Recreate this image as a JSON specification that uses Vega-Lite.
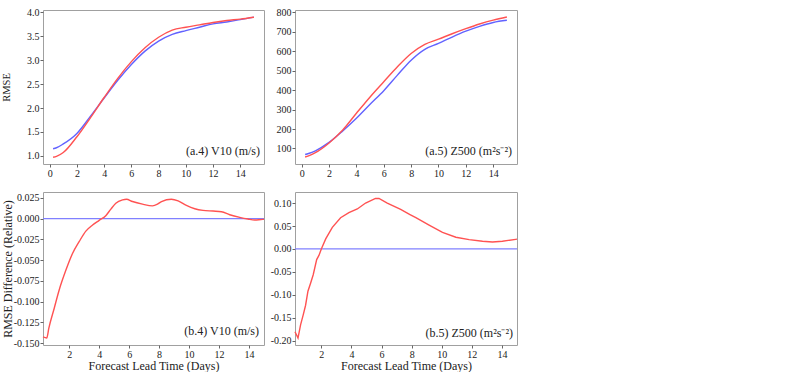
{
  "$schema": "https://vega.github.io/schema/vega-lite/v6.json",
  "background": "white",
  "padding": {"left": 0, "top": 6, "right": 0, "bottom": 0},
  "bounds": "flush",
  "columns": 2,
  "spacing": {"row": 28, "column": 31},
  "config": {
    "font": "Liberation Serif",
    "locale": {"number": {"decimal": ".", "thousands": ",", "grouping": [3], "currency": ["$", ""], "minus": "-"}},
    "view": {"stroke": "#a0a0a0", "strokeWidth": 1},
    "axis": {
      "grid": false, "domain": false, "tickColor": "#666", "tickSize": 3, "labelPadding": 1,
      "labelOverlap": false, "labelFlush": false, "labelBound": false,
      "labelFont": "Liberation Serif", "labelFontSize": 10, "labelColor": "#222",
      "titleFont": "Liberation Serif", "titleFontSize": 12, "titleFontWeight": "normal", "titleColor": "#222"
    }
  },
  "datasets": {
    "a4": [
      {"x": 0.25, "series": "A", "v": 1.15}, {"x": 0.5, "series": "A", "v": 1.17}, {"x": 1, "series": "A", "v": 1.25},
      {"x": 2, "series": "A", "v": 1.47}, {"x": 3, "series": "A", "v": 1.83}, {"x": 4, "series": "A", "v": 2.21},
      {"x": 5, "series": "A", "v": 2.58}, {"x": 6, "series": "A", "v": 2.91}, {"x": 7, "series": "A", "v": 3.19},
      {"x": 8, "series": "A", "v": 3.40}, {"x": 9, "series": "A", "v": 3.54}, {"x": 10, "series": "A", "v": 3.62},
      {"x": 11, "series": "A", "v": 3.69}, {"x": 12, "series": "A", "v": 3.76}, {"x": 13, "series": "A", "v": 3.80},
      {"x": 14, "series": "A", "v": 3.85}, {"x": 15, "series": "A", "v": 3.90},
      {"x": 0.25, "series": "B", "v": 0.97}, {"x": 0.5, "series": "B", "v": 0.99}, {"x": 1, "series": "B", "v": 1.07},
      {"x": 2, "series": "B", "v": 1.40}, {"x": 3, "series": "B", "v": 1.80}, {"x": 4, "series": "B", "v": 2.22},
      {"x": 5, "series": "B", "v": 2.62}, {"x": 6, "series": "B", "v": 2.97}, {"x": 7, "series": "B", "v": 3.26},
      {"x": 8, "series": "B", "v": 3.48}, {"x": 9, "series": "B", "v": 3.63}, {"x": 10, "series": "B", "v": 3.69},
      {"x": 11, "series": "B", "v": 3.74}, {"x": 12, "series": "B", "v": 3.79}, {"x": 13, "series": "B", "v": 3.83},
      {"x": 14, "series": "B", "v": 3.86}, {"x": 15, "series": "B", "v": 3.90}
    ],
    "a5": [
      {"x": 0.25, "series": "A", "v": 69}, {"x": 0.5, "series": "A", "v": 74}, {"x": 1, "series": "A", "v": 88},
      {"x": 2, "series": "A", "v": 131}, {"x": 3, "series": "A", "v": 190}, {"x": 4, "series": "A", "v": 255},
      {"x": 5, "series": "A", "v": 327}, {"x": 6, "series": "A", "v": 397}, {"x": 7, "series": "A", "v": 477},
      {"x": 8, "series": "A", "v": 554}, {"x": 9, "series": "A", "v": 610}, {"x": 10, "series": "A", "v": 640},
      {"x": 11, "series": "A", "v": 673}, {"x": 12, "series": "A", "v": 703}, {"x": 13, "series": "A", "v": 728},
      {"x": 14, "series": "A", "v": 748}, {"x": 15, "series": "A", "v": 759},
      {"x": 0.25, "series": "B", "v": 56}, {"x": 0.5, "series": "B", "v": 62}, {"x": 1, "series": "B", "v": 78},
      {"x": 2, "series": "B", "v": 128}, {"x": 3, "series": "B", "v": 195}, {"x": 4, "series": "B", "v": 281},
      {"x": 5, "series": "B", "v": 365}, {"x": 6, "series": "B", "v": 443}, {"x": 7, "series": "B", "v": 520},
      {"x": 8, "series": "B", "v": 588}, {"x": 9, "series": "B", "v": 635}, {"x": 10, "series": "B", "v": 662},
      {"x": 11, "series": "B", "v": 690}, {"x": 12, "series": "B", "v": 716}, {"x": 13, "series": "B", "v": 740},
      {"x": 14, "series": "B", "v": 760}, {"x": 15, "series": "B", "v": 776}
    ],
    "b4": [
      {"x": 0.25, "d": -0.1427}, {"x": 0.5, "d": -0.144}, {"x": 0.64, "d": -0.132}, {"x": 1.0, "d": -0.108},
      {"x": 1.33, "d": -0.086}, {"x": 1.78, "d": -0.062}, {"x": 2.22, "d": -0.042}, {"x": 2.67, "d": -0.0275},
      {"x": 3.11, "d": -0.015}, {"x": 3.56, "d": -0.0076}, {"x": 4.0, "d": -0.002}, {"x": 4.44, "d": 0.0036},
      {"x": 4.78, "d": 0.0116}, {"x": 5.11, "d": 0.0187}, {"x": 5.56, "d": 0.0227}, {"x": 5.82, "d": 0.0235},
      {"x": 6.22, "d": 0.0207}, {"x": 6.89, "d": 0.0175}, {"x": 7.56, "d": 0.0155}, {"x": 7.89, "d": 0.0175},
      {"x": 8.16, "d": 0.0207}, {"x": 8.82, "d": 0.0235}, {"x": 9.27, "d": 0.0215}, {"x": 9.82, "d": 0.016},
      {"x": 10.38, "d": 0.012}, {"x": 10.93, "d": 0.010}, {"x": 11.6, "d": 0.0092}, {"x": 12.16, "d": 0.0084},
      {"x": 12.71, "d": 0.0048}, {"x": 13.38, "d": 0.0016}, {"x": 13.93, "d": -0.0004}, {"x": 14.38, "d": -0.0016},
      {"x": 14.93, "d": -0.0008}, {"x": 15, "d": -0.0008}
    ],
    "b5": [
      {"x": 0.25, "d": -0.180}, {"x": 0.45, "d": -0.194}, {"x": 0.62, "d": -0.165}, {"x": 0.80, "d": -0.143},
      {"x": 0.95, "d": -0.123}, {"x": 1.11, "d": -0.092}, {"x": 1.29, "d": -0.074}, {"x": 1.46, "d": -0.056},
      {"x": 1.69, "d": -0.023}, {"x": 1.84, "d": -0.014}, {"x": 2.0, "d": 0.0}, {"x": 2.29, "d": 0.022},
      {"x": 2.73, "d": 0.047}, {"x": 3.28, "d": 0.068}, {"x": 3.83, "d": 0.079}, {"x": 4.39, "d": 0.087},
      {"x": 4.94, "d": 0.100}, {"x": 5.6, "d": 0.110}, {"x": 5.83, "d": 0.110}, {"x": 6.38, "d": 0.100},
      {"x": 7.27, "d": 0.086}, {"x": 7.89, "d": 0.075}, {"x": 8.28, "d": 0.068}, {"x": 9.16, "d": 0.052},
      {"x": 10.05, "d": 0.036}, {"x": 10.94, "d": 0.0255}, {"x": 11.82, "d": 0.0204}, {"x": 12.71, "d": 0.0167},
      {"x": 13.37, "d": 0.0153}, {"x": 14.03, "d": 0.0167}, {"x": 14.91, "d": 0.021}, {"x": 15, "d": 0.0215}
    ],
    "zero": [{"ref": 0}],
    "labA4": [{"label": "(a.4) V10 (m/s)"}],
    "labA5": [{"label": "(a.5) Z500 (m²s⁻²)"}],
    "labB4": [{"label": "(b.4) V10 (m/s)"}],
    "labB5": [{"label": "(b.5) Z500 (m²s⁻²)"}]
  },
  "concat": [
    {
      "width": 221, "height": 154,
      "layer": [
        {
          "data": {"name": "a4"},
          "mark": {"type": "line", "interpolate": "monotone", "strokeWidth": 1.4},
          "encoding": {
            "x": {"field": "x", "type": "quantitative", "scale": {"domain": [-0.49, 15.74], "nice": false, "zero": false}, "axis": {"values": [0, 2, 4, 6, 8, 10, 12, 14], "title": null, "labelOverlap": false}},
            "y": {"field": "v", "type": "quantitative", "scale": {"domain": [0.83, 4.05], "nice": false, "zero": false}, "axis": {"values": [1, 1.5, 2, 2.5, 3, 3.5, 4], "format": ".1f", "labelOverlap": false, "title": "RMSE", "titleFontSize": 10.5, "titlePadding": 15}},
            "color": {"field": "series", "type": "nominal", "scale": {"domain": ["A", "B"], "range": ["#6262ff", "#ff5252"]}, "legend": null}
          }
        },
        {
          "data": {"name": "labA4"},
          "mark": {"type": "text", "align": "right", "baseline": "alphabetic", "dx": -4, "dy": -9, "fontSize": 12, "color": "#222"},
          "encoding": {"x": {"value": "width"}, "y": {"value": "height"}, "text": {"field": "label"}}
        }
      ]
    },
    {
      "width": 222, "height": 154,
      "layer": [
        {
          "data": {"name": "a5"},
          "mark": {"type": "line", "interpolate": "monotone", "strokeWidth": 1.4},
          "encoding": {
            "x": {"field": "x", "type": "quantitative", "scale": {"domain": [-0.49, 15.74], "nice": false, "zero": false}, "axis": {"values": [0, 2, 4, 6, 8, 10, 12, 14], "title": null, "labelOverlap": false}},
            "y": {"field": "v", "type": "quantitative", "scale": {"domain": [20, 812], "nice": false, "zero": false}, "axis": {"values": [100, 200, 300, 400, 500, 600, 700, 800], "labelOverlap": false, "title": null}},
            "color": {"field": "series", "type": "nominal", "scale": {"domain": ["A", "B"], "range": ["#6262ff", "#ff5252"]}, "legend": null}
          }
        },
        {
          "data": {"name": "labA5"},
          "mark": {"type": "text", "align": "right", "baseline": "alphabetic", "dx": -5, "dy": -9, "fontSize": 12, "color": "#222"},
          "encoding": {"x": {"value": "width"}, "y": {"value": "height"}, "text": {"field": "label"}}
        }
      ]
    },
    {
      "width": 221, "height": 153,
      "layer": [
        {
          "data": {"name": "zero"},
          "mark": {"type": "rule", "color": "#8080ff", "strokeWidth": 1.2},
          "encoding": {"y": {"field": "ref", "type": "quantitative", "scale": {"domain": [-0.1524, 0.0322], "nice": false, "zero": false}, "axis": {"values": [-0.15, -0.125, -0.1, -0.075, -0.05, -0.025, 0, 0.025], "format": ".3f", "labelOverlap": false, "title": "RMSE Difference (Relative)", "titlePadding": -1}}}
        },
        {
          "data": {"name": "b4"},
          "mark": {"type": "line", "interpolate": "monotone", "strokeWidth": 1.4, "color": "#ff5252"},
          "encoding": {
            "x": {"field": "x", "type": "quantitative", "scale": {"domain": [0.25, 15], "nice": false, "zero": false}, "axis": {"values": [2, 4, 6, 8, 10, 12, 14], "labelOverlap": false, "title": "Forecast Lead Time (Days)", "titlePadding": 1}},
            "y": {"field": "d", "type": "quantitative", "scale": {"domain": [-0.1524, 0.0322], "nice": false, "zero": false}, "axis": {"values": [-0.15, -0.125, -0.1, -0.075, -0.05, -0.025, 0, 0.025], "format": ".3f", "labelOverlap": false, "title": "RMSE Difference (Relative)", "titlePadding": -1}}
          }
        },
        {
          "data": {"name": "labB4"},
          "mark": {"type": "text", "align": "right", "baseline": "alphabetic", "dx": -5, "dy": -10, "fontSize": 12, "color": "#222"},
          "encoding": {"x": {"value": "width"}, "y": {"value": "height"}, "text": {"field": "label"}}
        }
      ]
    },
    {
      "width": 222, "height": 153,
      "layer": [
        {
          "data": {"name": "zero"},
          "mark": {"type": "rule", "color": "#8080ff", "strokeWidth": 1.2},
          "encoding": {"y": {"field": "ref", "type": "quantitative", "scale": {"domain": [-0.209, 0.124], "nice": false, "zero": false}, "axis": {"values": [-0.2, -0.15, -0.1, -0.05, 0, 0.05, 0.1], "format": ".2f", "labelOverlap": false, "title": null}}}
        },
        {
          "data": {"name": "b5"},
          "mark": {"type": "line", "interpolate": "linear", "strokeWidth": 1.4, "color": "#ff5252"},
          "encoding": {
            "x": {"field": "x", "type": "quantitative", "scale": {"domain": [0.25, 15], "nice": false, "zero": false}, "axis": {"values": [2, 4, 6, 8, 10, 12, 14], "labelOverlap": false, "title": "Forecast Lead Time (Days)", "titlePadding": 1}},
            "y": {"field": "d", "type": "quantitative", "scale": {"domain": [-0.209, 0.124], "nice": false, "zero": false}, "axis": {"values": [-0.2, -0.15, -0.1, -0.05, 0, 0.05, 0.1], "format": ".2f", "labelOverlap": false, "title": null}}
          }
        },
        {
          "data": {"name": "labB5"},
          "mark": {"type": "text", "align": "right", "baseline": "alphabetic", "dx": -4, "dy": -8, "fontSize": 12, "color": "#222"},
          "encoding": {"x": {"value": "width"}, "y": {"value": "height"}, "text": {"field": "label"}}
        }
      ]
    }
  ]
}
